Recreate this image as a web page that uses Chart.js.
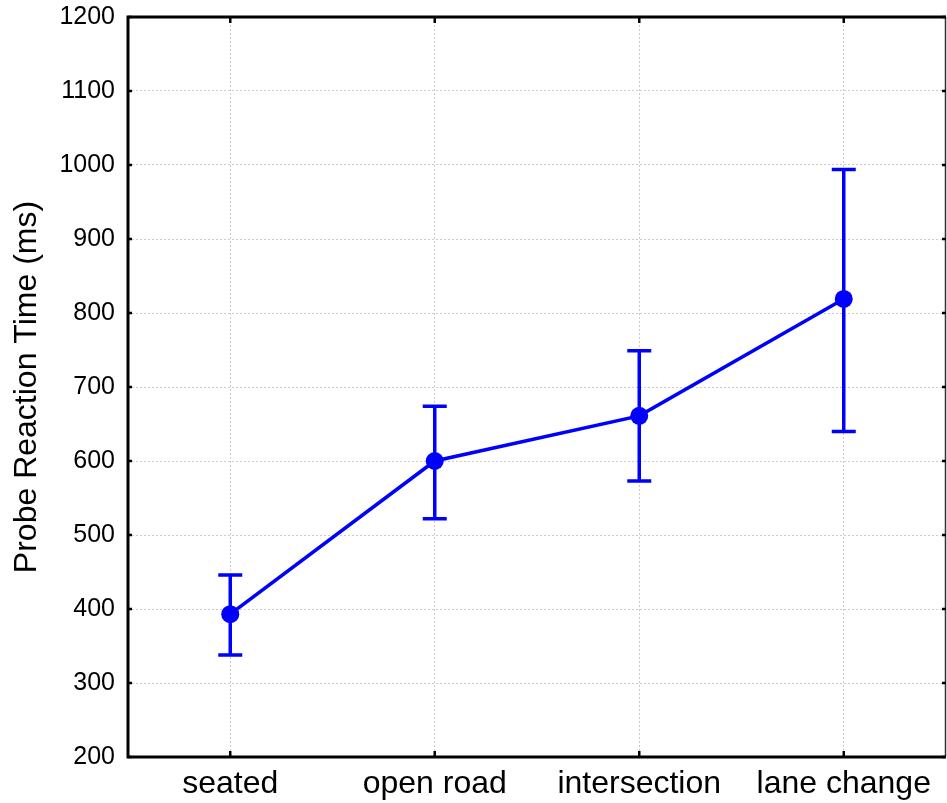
<!DOCTYPE html>
<html>
<head>
<meta charset="utf-8">
<script src="https://cdn.jsdelivr.net/npm/chart.js@4"></script>
<style>
html,body{margin:0;padding:0;background:#fff;}
#wrap{width:947px;height:803px;position:relative;}
</style>
</head>
<body>
<div id="wrap"><canvas id="c" width="947" height="803"></canvas></div>
<script>
const categories = ['seated', 'open road', 'intersection', 'lane change'];
const meanRT = [393, 600, 661, 819];
const upperRT = [446, 674, 749, 994];
const lowerRT = [338, 522, 573, 640];
const yTicks = [200, 300, 400, 500, 600, 700, 800, 900, 1000, 1100, 1200];
const yTitle = 'Probe Reaction Time (ms)';

const BLUE = '#0000ff';
const FONT = "'Liberation Sans', Arial, sans-serif";

const errorBars = {
  id: 'errorBars',
  afterDatasetsDraw(chart) {
    const ctx = chart.ctx, x = chart.scales.x, y = chart.scales.y;
    ctx.save();
    ctx.strokeStyle = BLUE;
    ctx.lineWidth = 3.5;
    ctx.lineCap = 'butt';
    categories.forEach((c, i) => {
      const px = x.getPixelForValue(i);
      const yt = y.getPixelForValue(upperRT[i]);
      const yb = y.getPixelForValue(lowerRT[i]);
      ctx.beginPath();
      ctx.moveTo(px, yt); ctx.lineTo(px, yb);
      ctx.moveTo(px - 12, yt); ctx.lineTo(px + 12, yt);
      ctx.moveTo(px - 12, yb); ctx.lineTo(px + 12, yb);
      ctx.stroke();
    });
    ctx.restore();
  }
};

const frame = {
  id: 'frame',
  afterDraw(chart) {
    const ctx = chart.ctx, a = chart.chartArea, x = chart.scales.x, y = chart.scales.y;
    ctx.save();
    ctx.lineWidth = 1.5;
    ctx.strokeStyle = '#333';
    ctx.beginPath(); ctx.moveTo(a.right - 0.5, a.top); ctx.lineTo(a.right - 0.5, a.bottom); ctx.stroke();
    ctx.strokeStyle = '#000';
    ctx.lineWidth = 3;
    ctx.beginPath();
    ctx.moveTo(a.left, a.top); ctx.lineTo(a.right, a.top);
    ctx.moveTo(a.left, a.bottom); ctx.lineTo(a.right, a.bottom);
    ctx.moveTo(a.left, a.top - 1.5); ctx.lineTo(a.left, a.bottom + 1.5);
    ctx.stroke();
    ctx.lineWidth = 2.5;
    ctx.beginPath();
    yTicks.forEach(v => {
      const py = y.getPixelForValue(v);
      ctx.moveTo(a.left, py); ctx.lineTo(a.left + 4, py);
      ctx.moveTo(a.right, py); ctx.lineTo(a.right - 4, py);
    });
    categories.forEach((c, i) => {
      const px = x.getPixelForValue(i);
      ctx.moveTo(px, a.top); ctx.lineTo(px, a.top + 6);
      ctx.moveTo(px, a.bottom); ctx.lineTo(px, a.bottom - 6);
    });
    ctx.stroke();
    ctx.restore();
  }
};

new Chart(document.getElementById('c'), {
  type: 'line',
  data: {
    labels: categories,
    datasets: [{
      data: meanRT,
      borderColor: BLUE,
      backgroundColor: BLUE,
      borderWidth: 3.5,
      pointRadius: 9,
      pointHoverRadius: 9,
      pointBorderWidth: 0,
      tension: 0
    }]
  },
  options: {
    responsive: false,
    animation: false,
    events: [],
    layout: { autoPadding: false, padding: { top: 17, right: 1, left: 0, bottom: 0 } },
    plugins: { legend: { display: false }, tooltip: { enabled: false } },
    scales: {
      x: {
        type: 'category',
        offset: true,
        grid: { color: '#cccccc', lineWidth: 1, drawTicks: false, offset: false },
        border: { display: false, dash: [2, 2] },
        ticks: { color: '#000', font: { family: FONT, size: 32 }, padding: 8, maxRotation: 0 },
        afterFit(s) { s.height = 46; s.paddingLeft = 0; s.paddingRight = 0; }
      },
      y: {
        min: 200, max: 1200,
        afterBuildTicks(s) { s.ticks = yTicks.map(v => ({ value: v })); },
        grid: { color: '#cccccc', lineWidth: 1, drawTicks: false },
        border: { display: false, dash: [2, 2] },
        ticks: { color: '#000', font: { family: FONT, size: 25 }, padding: 13, callback: v => String(v) },
        title: { display: true, text: yTitle, color: '#000', font: { family: FONT, size: 32 }, padding: { top: 8, bottom: 0 } },
        afterFit(s) { s.width = 128; s.paddingTop = 0; s.paddingBottom = 0; }
      }
    }
  },
  plugins: [errorBars, frame]
});
</script>
</body>
</html>
